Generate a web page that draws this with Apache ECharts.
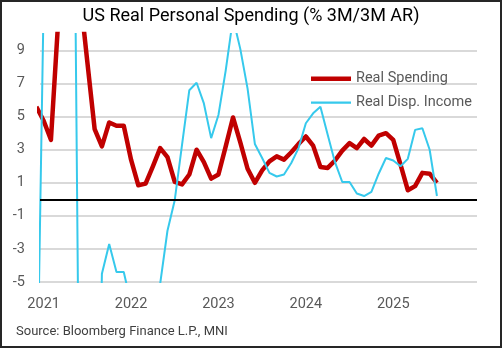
<!DOCTYPE html>
<html>
<head>
<meta charset="utf-8">
<script src="https://cdn.jsdelivr.net/npm/echarts@6/dist/echarts.min.js"></script>
<style>
html,body{margin:0;padding:0;background:#fff;}
#chart{width:502px;height:348px;}
</style>
</head>
<body>
<div id="chart"></div>
<script>
// Monthly observations (Dec 2020 lies just left of the plot and is clipped)
const months = ['2020-12',
  '2021-01','2021-02','2021-03','2021-04','2021-05','2021-06','2021-07','2021-08','2021-09','2021-10','2021-11','2021-12',
  '2022-01','2022-02','2022-03','2022-04','2022-05','2022-06','2022-07','2022-08','2022-09','2022-10','2022-11','2022-12',
  '2023-01','2023-02','2023-03','2023-04','2023-05','2023-06','2023-07','2023-08','2023-09','2023-10','2023-11','2023-12',
  '2024-01','2024-02','2024-03','2024-04','2024-05','2024-06','2024-07','2024-08','2024-09','2024-10','2024-11','2024-12',
  '2025-01','2025-02','2025-03','2025-04','2025-05','2025-06','2025-07'];
const realSpending = [5.6,
  4.75,3.6,10.8,20,18,12.4,8.3,4.25,3.2,4.65,4.45,4.45,
  2.4,0.85,0.95,2.0,3.1,2.55,1.05,0.9,1.5,3.0,2.25,1.25,
  1.5,3.2,4.95,3.45,1.85,1.0,1.75,2.3,2.6,2.4,2.85,3.35,
  3.8,3.25,1.95,1.9,2.35,2.95,3.4,3.1,3.65,3.25,3.85,4.0,
  3.6,2.1,0.55,0.8,1.6,1.55,1.0];
const realDispIncome = [-15,
  12,25,70,45,30,-20,-25,-30,-4.5,-2.7,-4.4,-4.4,
  -6.3,-9,-9,-8,-5.1,-1.9,-0.05,3.3,6.6,7.05,5.8,3.7,
  5.1,7.8,10.95,9.1,6.7,3.35,2.5,1.6,1.38,1.5,2.2,3.1,
  4.6,5.2,5.6,3.9,2.25,1.05,1.05,0.35,0.2,0.45,1.55,2.5,
  2.35,2.0,2.45,4.2,4.3,3.0,0.2];
const yearLabels = ['2021','2022','2023','2024','2025'];
const yTicks = [-5,-3,-1,1,3,5,7,9];
const seriesNames = ['Real Spending','Real Disp. Income'];
const titleText = 'US Real Personal Spending (% 3M/3M AR)';
const sourceText = 'Source: Bloomberg Finance L.P., MNI';

// month index relative to Jan 2021
function monthIndex(m){
  const [y,mo] = m.split('-').map(Number);
  return (y-2021)*12 + (mo-1);
}
const spendData = months.map((m,i)=>[monthIndex(m), realSpending[i]]);
const incomeData = months.map((m,i)=>[monthIndex(m), realDispIncome[i]]);
const yearTickValues = yearLabels.map(y=>monthIndex(y+'-01'));

const RED = '#C00000', BLUE = '#36C9EC';
const FONT = 'Roboto';
const chart = echarts.init(document.getElementById('chart'), null, {renderer:'canvas'});
chart.setOption({
  animation:false,
  backgroundColor:'#fff',
  title:{
    text:titleText, left:'center', top:2,
    textStyle:{fontFamily:FONT, fontSize:18, fontWeight:'normal', color:'#000'}
  },
  legend:{
    orient:'vertical', left:306, top:66,
    itemWidth:40, itemHeight:14, itemGap:9,
    textStyle:{fontFamily:FONT, fontSize:14.5, fontWeight:'normal', color:'#595959'},
    data:[
      {name:seriesNames[0], icon:'path://M0,0h0.01v14h-0.01z M0,5h40v4.4h-40z'},
      {name:seriesNames[1], icon:'path://M0,0h0.01v14h-0.01z M0,6h40v2.2h-40z'}
    ]
  },
  grid:{left:40, right:25, top:34, bottom:66},
  xAxis:{
    type:'value', min:-0.5, max:59.5,
    axisLine:{show:false}, axisTick:{show:false}, splitLine:{show:false},
    axisLabel:{
      customValues:yearTickValues, margin:15,
      fontFamily:FONT, fontSize:14.5, color:'#595959',
      formatter:v=>yearLabels[yearTickValues.indexOf(v)]
    }
  },
  yAxis:{
    type:'value', min:-5, max:10,
    axisLine:{show:false},
    axisTick:{show:false, customValues:yTicks},
    axisLabel:{customValues:yTicks, margin:15, fontFamily:FONT, fontSize:14.5, color:'#595959'},
    splitLine:{show:true, lineStyle:{color:'#d9d9d9', width:2}}
  },
  graphic:[
    {type:'text', left:16, top:325, style:{text:sourceText, font:'13px '+FONT, fill:'#404040'}},
    {type:'rect', shape:{x:1, y:1, width:500, height:346}, style:{fill:'none', stroke:'#262626', lineWidth:2}, silent:true}
  ],
  series:[
    {
      name:'zero', type:'line', data:[], z:1, silent:true,
      markLine:{silent:true, symbol:'none', label:{show:false},
        lineStyle:{color:'#000', width:2, type:'solid'},
        data:[{yAxis:0}]}
    },
    {
      name:seriesNames[0], type:'line', data:spendData, z:3,
      showSymbol:false, symbol:'none', clip:true,
      lineStyle:{color:RED, width:4.5, join:'round'},
      itemStyle:{color:RED}
    },
    {
      name:seriesNames[1], type:'line', data:incomeData, z:4,
      showSymbol:false, symbol:'none', clip:true,
      lineStyle:{color:BLUE, width:2},
      itemStyle:{color:BLUE}
    }
  ]
});
</script>
</body>
</html>
